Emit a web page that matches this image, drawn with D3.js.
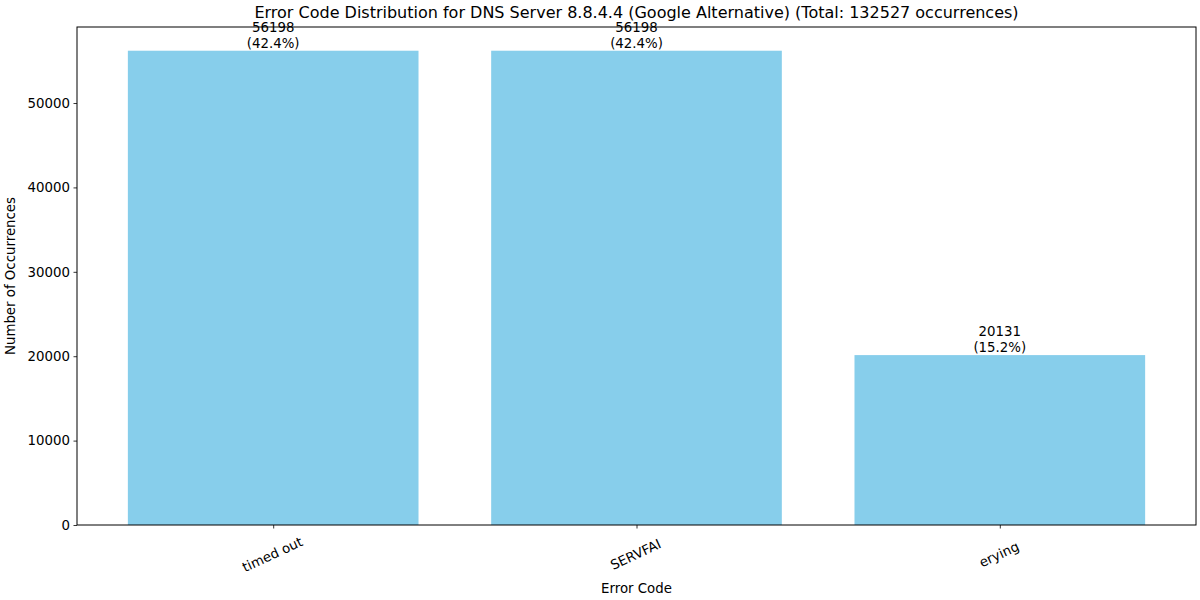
<!DOCTYPE html>
<html>
<head>
<meta charset="utf-8">
<script src="https://cdn.jsdelivr.net/npm/d3@7"></script>
<style>
  body { margin: 0; background: #fff; }
  text { font-family: "DejaVu Sans", sans-serif; fill: #000; }
</style>
</head>
<body>
<div id="chart"></div>
<script>
// data
var categories = ["timed out", "SERVFAI", "erying"];
var counts = [56198, 56198, 20131];
var total = 132527;
var yTicks = [0, 10000, 20000, 30000, 40000, 50000];

var W = 1200, H = 600;
var margin = {top: 27, right: 4, bottom: 75, left: 77};
var w = W - margin.left - margin.right;
var h = H - margin.top - margin.bottom;

var svg = d3.select("#chart").append("svg")
  .attr("width", W)
  .attr("height", H);

var g = svg.append("g")
  .attr("transform", "translate(" + margin.left + "," + margin.top + ")");

// matplotlib-ish: bars at 0..n-1, width 0.8, 5% margin
var n = categories.length;
var lo = -0.4, hi = n - 1 + 0.4;
var pad = (hi - lo) * 0.05;
var x = d3.scaleLinear().domain([lo - pad, hi + pad]).range([0, w]);
var y = d3.scaleLinear().domain([0, d3.max(counts) * 1.05]).range([h, 0]);

g.selectAll("rect.bar")
  .data(counts)
  .enter().append("rect")
  .attr("class", "bar")
  .attr("x", function(d, i) { return x(i - 0.4); })
  .attr("width", x(0.8) - x(0))
  .attr("y", function(d) { return y(d); })
  .attr("height", function(d) { return h - y(d); })
  .style("fill", "#87ceeb");

// value labels
var lbl = g.selectAll("text.val")
  .data(counts)
  .enter().append("text")
  .attr("class", "val")
  .attr("text-anchor", "middle")
  .style("font-size", "13.33px");
lbl.append("tspan")
  .attr("x", function(d, i) { return x(i); })
  .attr("y", function(d) { return y(d) - 19; })
  .text(function(d) { return d; });
lbl.append("tspan")
  .attr("x", function(d, i) { return x(i); })
  .attr("y", function(d) { return y(d) - 3; })
  .text(function(d) { return "(" + (d / total * 100).toFixed(1) + "%)"; });

// y axis
var yAxis = g.append("g")
  .call(d3.axisLeft(y).tickValues(yTicks).tickSize(3.5).tickPadding(3.5).tickFormat(d3.format("d")));
yAxis.select(".domain").remove();
yAxis.selectAll("text").style("font-size", "13.33px").attr("font-family", null);
yAxis.selectAll("line").attr("stroke-width", 0.8);

// x axis
var xAxis = g.append("g")
  .attr("transform", "translate(0," + h + ")")
  .call(d3.axisBottom(x).tickValues(d3.range(n)).tickSize(3.5).tickFormat(function(d) { return categories[d]; }));
xAxis.select(".domain").remove();
xAxis.selectAll("line").attr("stroke-width", 0.8);
xAxis.selectAll("text")
  .attr("font-family", null)
  .style("font-size", "13.33px")
  .attr("y", 0)
  .attr("dy", null)
  .attr("text-anchor", "middle")
  .attr("transform", "translate(-1,30) rotate(-25)")
  .attr("dominant-baseline", "middle");

// frame
g.append("rect")
  .attr("width", w)
  .attr("height", h)
  .style("fill", "none")
  .style("stroke", "#000")
  .style("stroke-width", 1);

// titles
svg.append("text")
  .attr("x", margin.left + w / 2)
  .attr("y", 18)
  .attr("text-anchor", "middle")
  .style("font-size", "16px")
  .text("Error Code Distribution for DNS Server 8.8.4.4 (Google Alternative) (Total: " + total + " occurrences)");

svg.append("text")
  .attr("x", margin.left + w / 2)
  .attr("y", 593)
  .attr("text-anchor", "middle")
  .style("font-size", "13.33px")
  .text("Error Code");

svg.append("text")
  .attr("transform", "translate(15," + (margin.top + h / 2) + ") rotate(-90)")
  .attr("text-anchor", "middle")
  .style("font-size", "13.33px")
  .text("Number of Occurrences");
</script>
</body>
</html>
